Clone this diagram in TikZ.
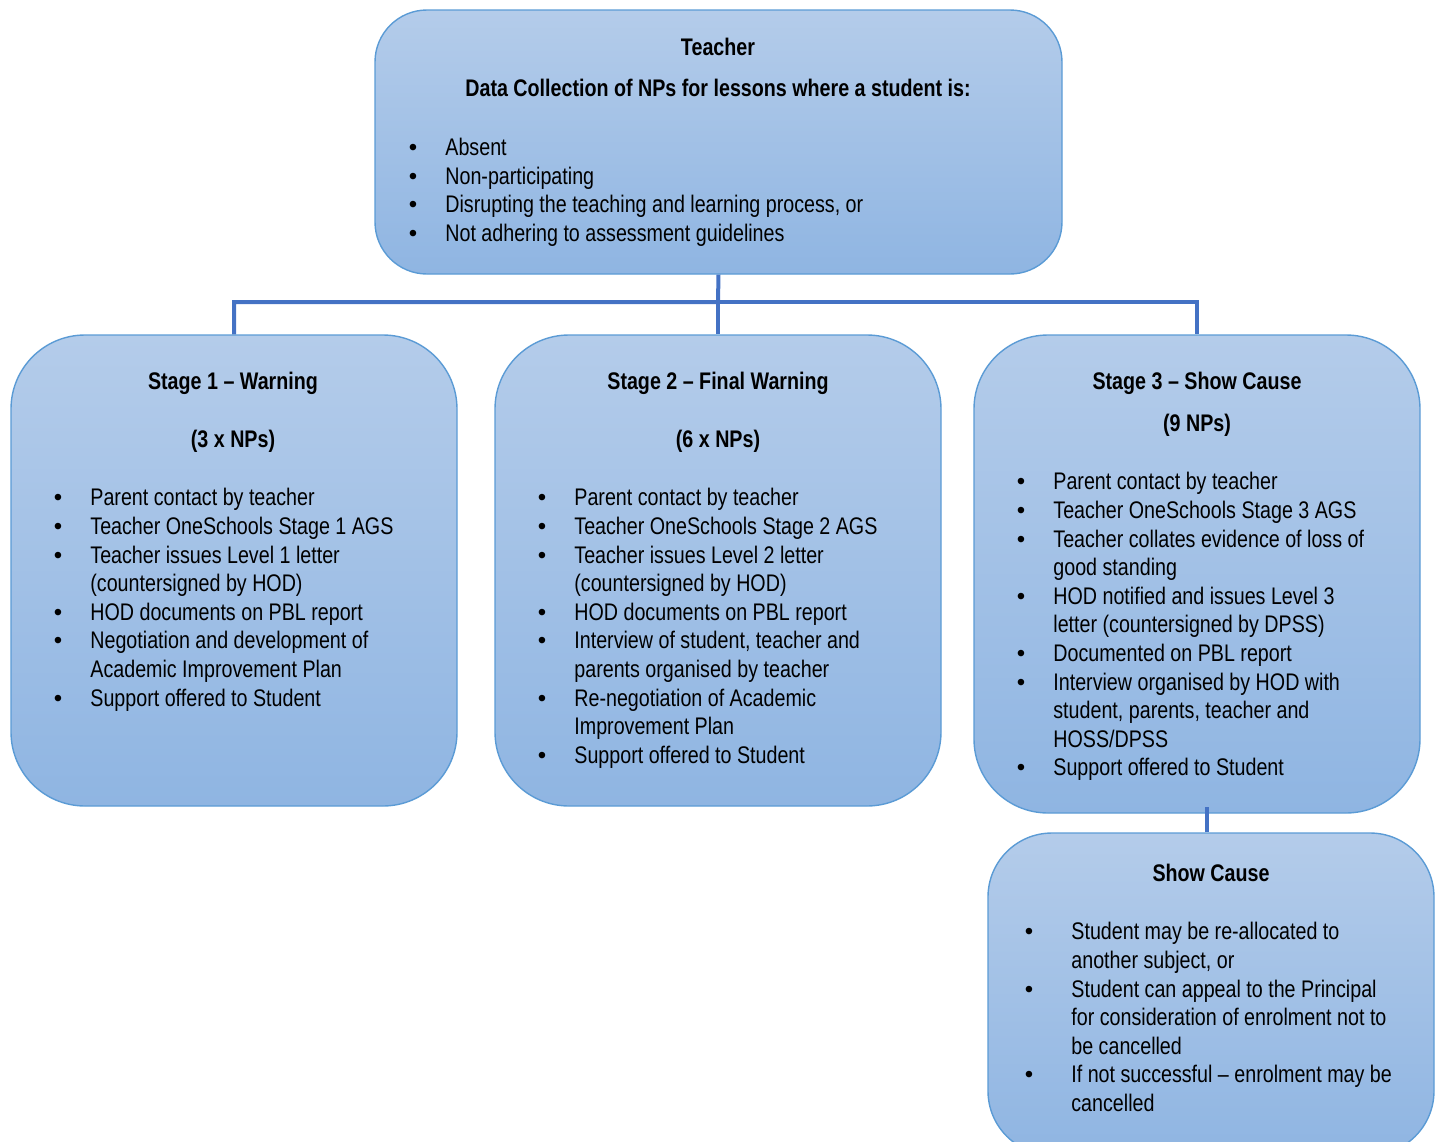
\documentclass[tikz,border=0pt]{standalone}
\usepackage{fontspec}
\setmainfont[FakeStretch=0.82]{Liberation Sans}
\newfontfamily\bulfont{Liberation Sans}
\usetikzlibrary{positioning}

\definecolor{boxtop}{HTML}{B4CCEA}
\definecolor{boxbot}{HTML}{8FB5E2}
\definecolor{boxline}{HTML}{5B9BD5}
\definecolor{linkblue}{HTML}{4472C4}

% bullet hung left of the text
\newcommand{\li}[1][18.3pt]{\llap{\makebox[#1][l]{\bulfont\symbol{"2022}}}}

\tikzset{
  stagebox/.style={draw=boxline, line width=0.7pt, top color=boxtop, bottom color=boxbot,
    rounded corners=37pt, minimum width=223pt, minimum height=235.5pt, inner sep=0pt},
  head/.style={font=\fontsize{12}{14.3}\selectfont\bfseries, anchor=base, inner sep=0pt},
  items/.style={align=left, anchor=north west, inner sep=0pt},
  link/.style={draw=linkblue, line width=2pt}
}

\begin{document}
\begin{tikzpicture}[x=0.5pt,y=-0.5pt,font=\fontsize{12}{14.3}\selectfont]
\useasboundingbox (0,0) rectangle (1437,1142);

% boxes
\node[stagebox, rounded corners=26pt, minimum width=343.5pt, minimum height=132pt] (teach) at (718.5,142) {};
\node[stagebox] (s1) at (234,570.5) {};
\node[stagebox] (s2) at (718,570.5) {};
\node[stagebox, minimum height=239pt] (s3) at (1197,574) {};
\node[stagebox, rounded corners=32pt, minimum height=161pt] (sc) at (1211,994) {};

% connectors
\coordinate (bus) at (718,302);
\draw[link] (teach.south) -- (bus) -| (s1.north);
\draw[link] (bus) -- (s2.north);
\draw[link] (bus) -| (s3.north);
\draw[link] ([xshift=-2pt]sc.north) -- ([xshift=-2pt,yshift=3.5pt]sc.north |- s3.south);

% teacher
\node[head] (t0a) at (718,55) {Teacher};
\node[head] (t0b) at (718,96) {Data Collection of NPs for lessons where a student is:};
\node[items] (l0) at (445,138) {\li Absent\\
  \li Non-participating\\
  \li Disrupting the teaching and learning process, or\\
  \li Not adhering to assessment guidelines};

% stage 1
\node[head] (t1a) at (233,389) {Stage 1 – Warning};
\node[head] (t1b) at (233,447) {(3 x NPs)};
\node[items] (l1) at (90,488) {\li Parent contact by teacher\\
  \li Teacher OneSchools Stage 1 AGS\\
  \li Teacher issues Level 1 letter\\
  (countersigned by HOD)\\
  \li HOD documents on PBL report\\
  \li Negotiation and development of\\
  Academic Improvement Plan\\
  \li Support offered to Student};

% stage 2
\node[head] (t2a) at (718,389) {Stage 2 – Final Warning};
\node[head] (t2b) at (718,447) {(6 x NPs)};
\node[items] (l2) at (574,488) {\li Parent contact by teacher\\
  \li Teacher OneSchools Stage 2 AGS\\
  \li Teacher issues Level 2 letter\\
  (countersigned by HOD)\\
  \li HOD documents on PBL report\\
  \li Interview of student, teacher and\\
  parents organised by teacher\\
  \li Re-negotiation of Academic\\
  Improvement Plan\\
  \li Support offered to Student};

% stage 3
\node[head] (t3a) at (1197,389) {Stage 3 – Show Cause};
\node[head] (t3b) at (1197,431) {(9 NPs)};
\node[items] (l3) at (1053,472) {\li Parent contact by teacher\\
  \li Teacher OneSchools Stage 3 AGS\\
  \li Teacher collates evidence of loss of\\
  good standing\\
  \li HOD notified and issues Level 3\\
  letter (countersigned by DPSS)\\
  \li Documented on PBL report\\
  \li Interview organised by HOD with\\
  student, parents, teacher and\\
  HOSS/DPSS\\
  \li Support offered to Student};

% show cause
\node[head] (t4) at (1211,881) {Show Cause};
\node[items] (l4) at (1071,922) {\li[23.3pt]Student may be re-allocated to\\
  another subject, or\\
  \li[23.3pt]Student can appeal to the Principal\\
  for consideration of enrolment not to\\
  be cancelled\\
  \li[23.3pt]If not successful – enrolment may be\\
  cancelled};
\end{tikzpicture}
\end{document}
